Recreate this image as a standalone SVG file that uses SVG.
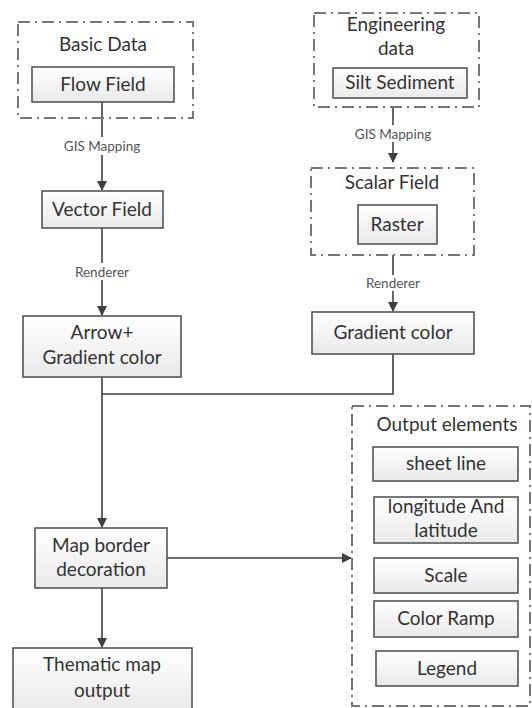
<svg xmlns="http://www.w3.org/2000/svg" width="532" height="708" viewBox="0 0 532 708">
<defs>
<linearGradient id="g" x1="0" y1="0" x2="0" y2="1"><stop offset="0" stop-color="#ffffff"/><stop offset="1" stop-color="#e9e9e9"/></linearGradient>
<marker id="ah" markerWidth="10" markerHeight="10" refX="9" refY="5" orient="auto" markerUnits="userSpaceOnUse"><path d="M0,0 L10,5 L0,10 Z" fill="#404040"/></marker>
</defs>
<style>
.box{fill:url(#g);stroke:#555;stroke-width:1.6}
.grp{fill:none;stroke:#777;stroke-width:2;stroke-dasharray:12 5 2 5}
.t{font-family:Lato,"Liberation Sans",sans-serif;font-size:19px;fill:#333;text-anchor:middle}
.s{font-family:Lato,"Liberation Sans",sans-serif;font-size:13.5px;fill:#555;text-anchor:middle}
.c{fill:none;stroke:#404040;stroke-width:1.6}
</style>
<rect width="532" height="708" fill="#fff"/>
<g id="connectors">
<path class="c" d="M102,102 V137"/>
<path class="c" d="M102,155 V190" marker-end="url(#ah)"/>
<text class="s" x="102" y="151">GIS Mapping</text>
<path class="c" d="M102,228 V263"/>
<path class="c" d="M102,280 V315" marker-end="url(#ah)"/>
<text class="s" x="102" y="277">Renderer</text>
<path class="c" d="M393,107 V125"/>
<path class="c" d="M393,142 V162" marker-end="url(#ah)"/>
<text class="s" x="393" y="139">GIS Mapping</text>
<path class="c" d="M393,255 V275"/>
<path class="c" d="M393,291 V311" marker-end="url(#ah)"/>
<text class="s" x="393" y="288">Renderer</text>
<path class="c" d="M102,377 V527" marker-end="url(#ah)"/>
<path class="c" d="M102,394 H393 V354"/>
<path class="c" d="M167,558 H351" marker-end="url(#ah)"/>
<path class="c" d="M102,588 V647" marker-end="url(#ah)"/>
</g>
<g id="basic-data">
<rect class="grp" x="18" y="22" width="175" height="96"/>
<text class="t" x="103" y="51">Basic Data</text>
</g>
<g id="flow-field">
<rect class="box" x="32" y="67" width="142" height="35"/>
<text class="t" x="103" y="91">Flow Field</text>
</g>
<g id="vector-field">
<rect class="box" x="42" y="191" width="121" height="37"/>
<text class="t" x="102" y="216">Vector Field</text>
</g>
<g id="arrow-gradient">
<rect class="box" x="23" y="316" width="158" height="61"/>
<text class="t" x="102" y="339">Arrow+</text>
<text class="t" x="102" y="364">Gradient color</text>
</g>
<g id="engineering-data">
<rect class="grp" x="314" y="13" width="165" height="94"/>
<text class="t" x="396" y="31">Engineering</text>
<text class="t" x="396" y="55">data</text>
</g>
<g id="silt-sediment">
<rect class="box" x="333" y="68" width="134" height="30"/>
<text class="t" x="400" y="89">Silt Sediment</text>
</g>
<g id="scalar-field">
<rect class="grp" x="311" y="168" width="163" height="87"/>
<text class="t" x="392" y="189">Scalar Field</text>
</g>
<g id="raster">
<rect class="box" x="358" y="205" width="79" height="39"/>
<text class="t" x="397" y="231">Raster</text>
</g>
<g id="gradient-color">
<rect class="box" x="312" y="312" width="162" height="42"/>
<text class="t" x="393" y="339">Gradient color</text>
</g>
<g id="output-elements">
<rect class="grp" x="352" y="406" width="178" height="300"/>
<text class="t" x="447" y="431">Output elements</text>
</g>
<g id="sheet-line">
<rect class="box" x="373" y="447" width="145" height="34"/>
<text class="t" x="446" y="470">sheet line</text>
</g>
<g id="longitude-latitude">
<rect class="box" x="374" y="497" width="144" height="46"/>
<text class="t" x="446" y="513">longitude And</text>
<text class="t" x="446" y="537">latitude</text>
</g>
<g id="scale">
<rect class="box" x="374" y="558" width="144" height="35"/>
<text class="t" x="446" y="582">Scale</text>
</g>
<g id="color-ramp">
<rect class="box" x="374" y="601" width="144" height="36"/>
<text class="t" x="446" y="625">Color Ramp</text>
</g>
<g id="legend">
<rect class="box" x="376" y="651" width="142" height="35"/>
<text class="t" x="447" y="675">Legend</text>
</g>
<g id="map-border">
<rect class="box" x="35" y="528" width="132" height="60"/>
<text class="t" x="101" y="552">Map border</text>
<text class="t" x="101" y="576">decoration</text>
</g>
<g id="thematic-map">
<rect class="box" x="13" y="648" width="179" height="64"/>
<text class="t" x="102" y="671">Thematic map</text>
<text class="t" x="102" y="697">output</text>
</g>
</svg>
